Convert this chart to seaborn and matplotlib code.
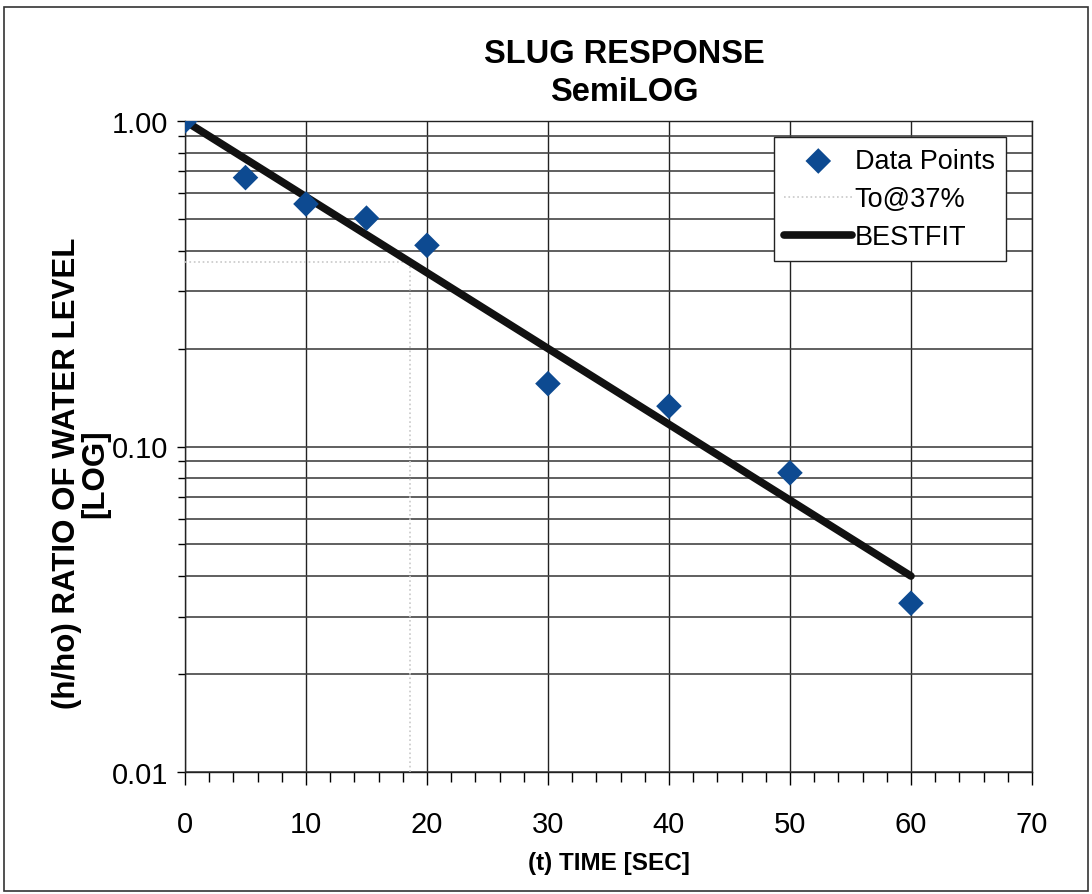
import matplotlib
matplotlib.use('Agg')
import matplotlib.pyplot as plt
import matplotlib.ticker as mticker
from matplotlib.patches import Rectangle
import pandas as pd
import seaborn as sns

# values
time_sec = [0, 5, 10, 15, 20, 30, 40, 50, 60]
ratio = [1.0, 0.67, 0.556, 0.503, 0.415, 0.156, 0.133, 0.083, 0.033]
fit_time = [0, 60]
fit_ratio = [1.0, 0.040]
to37_time = [0, 18.6, 18.6]
to37_ratio = [0.37, 0.37, 0.01]

sns.set_style("white")
plt.rcParams['font.family'] = ['Liberation Sans', 'DejaVu Sans']
plt.rcParams['text.color'] = 'black'
plt.rcParams['axes.labelcolor'] = 'black'
plt.rcParams['xtick.color'] = 'black'
plt.rcParams['ytick.color'] = 'black'

fig = plt.figure(figsize=(10.92, 8.95), dpi=100)
ax = fig.add_axes([0.1694, 0.1363, 0.7756, 0.7274])

pts = pd.DataFrame({'t': time_sec, 'r': ratio})
sns.scatterplot(data=pts, x='t', y='r', ax=ax, marker='D', s=170, color='#0d4a91',
                edgecolor='none', label='Data Points', zorder=5)
sns.lineplot(x=to37_time, y=to37_ratio, ax=ax, sort=False, estimator=None,
             color='#c8c8c8', linestyle=':', linewidth=1.2, label='To@37%', zorder=3)
sns.lineplot(x=fit_time, y=fit_ratio, ax=ax, sort=False, estimator=None,
             color='#111111', linewidth=5.5, label='BESTFIT', zorder=4)

ax.set_yscale('log')
ax.set_ylim(0.01, 1.0)
ax.set_xlim(0, 70)
ax.xaxis.set_major_locator(mticker.MultipleLocator(10))
ax.xaxis.set_minor_locator(mticker.MultipleLocator(2))
ax.yaxis.set_major_locator(mticker.FixedLocator([0.01, 0.1, 1.0]))
ax.yaxis.set_major_formatter(mticker.FixedFormatter(['0.01', '0.10', '1.00']))
ax.yaxis.set_minor_locator(mticker.LogLocator(base=10, subs=range(2, 10)))
ax.yaxis.set_minor_formatter(mticker.NullFormatter())

ax.grid(True, which='major', axis='x', color='#222222', linewidth=1.0)
ax.grid(True, which='both', axis='y', color='#444444', linewidth=1.2)

ax.tick_params(axis='x', which='major', direction='out', length=9, width=1,
               labelsize=21, pad=18, bottom=True)
ax.tick_params(axis='x', which='minor', direction='out', length=7, width=1, bottom=True)
ax.tick_params(axis='y', which='major', direction='out', length=6, width=1,
               labelsize=21, left=True, pad=6)
ax.tick_params(axis='y', which='minor', direction='out', length=5, width=1, left=True)

for s in ax.spines.values():
    s.set_color('#222222')
    s.set_linewidth(1.0)

ax.set_xlabel('(t) TIME [SEC]', fontsize=17.5, fontweight='bold', labelpad=10)
ax.set_ylabel('(h/ho) RATIO OF WATER LEVEL\n[LOG]', fontsize=22.5, fontweight='bold',
              linespacing=0.95)
ax.yaxis.set_label_coords(-0.088, 0.46)
fig.text(0.572, 0.918, 'SLUG RESPONSE\nSemiLOG', ha='center', va='center',
         fontsize=23.5, fontweight='bold', linespacing=1.3)

leg = ax.legend(loc='upper right', bbox_to_anchor=(0.969, 0.975), fontsize=19.5,
                frameon=True, fancybox=False, edgecolor='#222222', framealpha=1,
                handlelength=2.5, handletextpad=0.1, borderpad=0.4, labelspacing=0.45,
                borderaxespad=0)
leg.get_frame().set_linewidth(1.0)

fig.patches.append(Rectangle((0.004, 0.003), 0.992, 0.988, transform=fig.transFigure,
                             fill=False, edgecolor='#333333', linewidth=1.2))

fig.savefig('out.png', dpi=100)
